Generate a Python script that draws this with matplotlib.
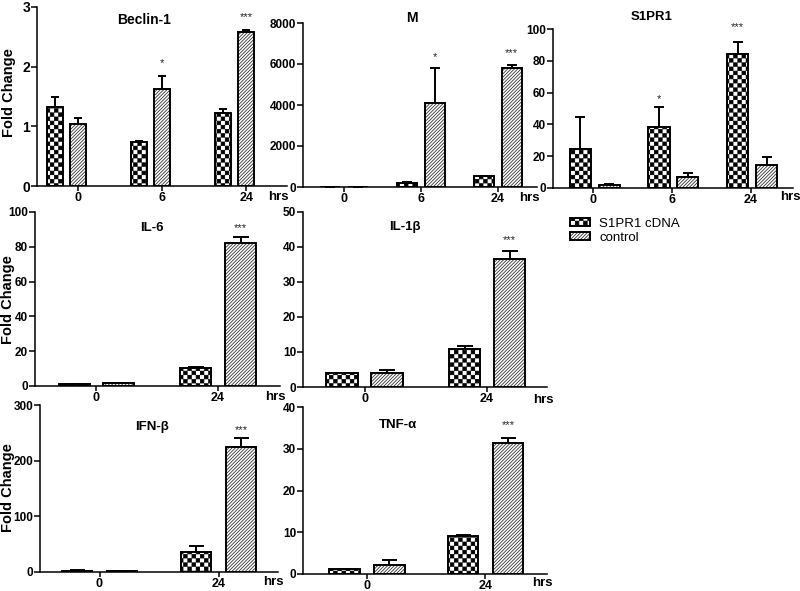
import numpy as np
import matplotlib
matplotlib.use("Agg")
import matplotlib.pyplot as plt
import matplotlib.hatch as mhatch
from matplotlib.path import Path

# ---------------- data ----------------
beclin_groups = ["0", "6", "24"]
beclin_cdna = [1.32, 0.74, 1.22]
beclin_cdna_err = [0.17, 0.02, 0.07]
beclin_ctrl = [1.04, 1.62, 2.58]
beclin_ctrl_err = [0.10, 0.22, 0.03]

m_groups = ["0", "6", "24"]
m_cdna = [1.0, 180, 520]
m_cdna_err = [0.0, 60, 30]
m_ctrl = [1.0, 4120, 5820]
m_ctrl_err = [0.0, 1670, 120]

s1pr1_groups = ["0", "6", "24"]
s1pr1_cdna = [24.5, 38.5, 84.5]
s1pr1_cdna_err = [20.3, 12.2, 7.5]
s1pr1_ctrl = [1.9, 7.1, 14.5]
s1pr1_ctrl_err = [0.6, 2.3, 5.2]

il6_groups = ["0", "24"]
il6_cdna = [0.9, 10.5]
il6_cdna_err = [0.3, 0.6]
il6_ctrl = [1.5, 82.1]
il6_ctrl_err = [0.4, 3.6]

il1b_groups = ["0", "24"]
il1b_cdna = [3.9, 11.0]
il1b_cdna_err = [0.2, 0.7]
il1b_ctrl = [4.1, 36.6]
il1b_ctrl_err = [0.8, 2.3]

ifnb_groups = ["0", "24"]
ifnb_cdna = [2.5, 36.5]
ifnb_cdna_err = [1.5, 10.3]
ifnb_ctrl = [1.0, 225.4]
ifnb_ctrl_err = [0.3, 15.1]

tnfa_groups = ["0", "24"]
tnfa_cdna = [1.1, 9.1]
tnfa_cdna_err = [0.2, 0.3]
tnfa_ctrl = [2.15, 31.4]
tnfa_ctrl_err = [1.2, 1.2]

series_labels = ["S1PR1 cDNA", "control"]

# significance marks: (group index, series 0=cdna/1=ctrl, text, y position in data units)
beclin_stars = [(1, 1, "*", 2.06), (2, 1, "***", 2.83)]
m_stars = [(1, 1, "*", 6340), (2, 1, "***", 6540)]
s1pr1_stars = [(1, 0, "*", 56), (2, 0, "***", 101)]
il6_stars = [(1, 1, "***", 90.5)]
il1b_stars = [(1, 1, "***", 42)]
ifnb_stars = [(1, 1, "***", 255)]
tnfa_stars = [(1, 1, "***", 35.6)]

# ---------------- custom checkerboard hatch ----------------
class CheckerHatch(mhatch.HatchPatternBase):
    def __init__(self, hatch, density):
        self.n = 24 if "*" in hatch else 0
        self.num_vertices = (self.n * self.n // 2) * 5 if self.n else 0

    def set_vertices_and_codes(self, vertices, codes):
        n = self.n
        c = 1.0 / n
        s = 0.0035
        verts = []
        for i in range(n):
            for j in range(n):
                if (i + j) % 2 == 0:
                    x0, y0 = i * c + s, j * c + s
                    x1, y1 = (i + 1) * c - s, (j + 1) * c - s
                    verts.extend([(x0, y0), (x1, y0), (x1, y1), (x0, y1), (x0, y0)])
        vertices[:] = np.array(verts)
        codes[:] = np.tile([Path.MOVETO, Path.LINETO, Path.LINETO, Path.LINETO,
                            Path.CLOSEPOLY], n * n // 2)

mhatch._hatch_types = [t for t in mhatch._hatch_types if t is not mhatch.Stars] + [CheckerHatch]

plt.rcParams["font.family"] = ["Liberation Sans", "DejaVu Sans"]
plt.rcParams["hatch.linewidth"] = 0.6

W, H = 800, 591
fig = plt.figure(figsize=(W / 100, H / 100), dpi=100)

def px_axes(L, R, T, B):
    return fig.add_axes([L / W, 1 - B / H, (R - L) / W, (B - T) / H])

CHECK = "*"
DIAG = "//////////"

def panel(box, xlim, ylim, yticks, groups, cdna, cdna_err, ctrl, ctrl_err,
          width, off, capsize, stars, title, title_pos, title_fs,
          hrs_pos, ytick_fs=8.5, xtick_fs=9, tick_off=0.0, star_fs=8):
    ax = px_axes(*box)
    x = np.arange(len(groups))
    b1 = ax.bar(x - off, cdna, width, facecolor="white", edgecolor="black",
                hatch=CHECK, linewidth=1.4, zorder=2)
    b2 = ax.bar(x + off, ctrl, width, facecolor="white", edgecolor="#333333",
                hatch=DIAG, linewidth=0, zorder=2)
    b3 = ax.bar(x + off, ctrl, width, fill=False, edgecolor="black",
                linewidth=1.4, zorder=3)
    z = np.zeros(len(groups))
    ax.errorbar(x - off, cdna, yerr=[z, cdna_err], fmt="none", ecolor="black",
                elinewidth=1.4, capsize=capsize, capthick=1.4, zorder=1)
    ax.errorbar(x + off, ctrl, yerr=[z, ctrl_err], fmt="none", ecolor="black",
                elinewidth=1.4, capsize=capsize, capthick=1.4, zorder=1)
    for gi, si, txt, yy in stars:
        xx = gi - off if si == 0 else gi + off
        ax.text(xx, yy, txt, ha="center", va="center", fontsize=star_fs,
                color="#222222")
    ax.set_xlim(*xlim)
    ax.set_ylim(*ylim)
    ax.set_yticks(yticks)
    ax.set_yticklabels([str(v) for v in yticks], fontsize=ytick_fs, fontweight="bold")
    ax.set_xticks(x + tick_off)
    ax.set_xticklabels(groups, fontsize=xtick_fs, fontweight="bold")
    for s in ["top", "right"]:
        ax.spines[s].set_visible(False)
    for s in ["left", "bottom"]:
        ax.spines[s].set_linewidth(1.1)
    ax.tick_params(axis="y", direction="out", length=4, width=1.1, pad=1)
    ax.tick_params(axis="x", direction="out", length=3.5, width=1.1, pad=1)
    ax.patch.set_visible(False)
    fig.text(title_pos[0] / W, 1 - title_pos[1] / H, title, ha="center",
             va="center", fontsize=title_fs, fontweight="bold")
    fig.text(hrs_pos[0] / W, 1 - hrs_pos[1] / H, "hrs", ha="center",
             va="center", fontsize=9.5, fontweight="bold")
    return ax, b1, b2, b3

ax1, b1, b2, b3 = panel((37, 287, 7, 186), (-0.35, 2.62), (0, 3), [0, 1, 2, 3],
      beclin_groups, beclin_cdna, beclin_cdna_err, beclin_ctrl, beclin_ctrl_err,
      0.19, 0.137, 2.9, beclin_stars, "Beclin-1", (144, 20), 10, (278, 197),
      ytick_fs=10, tick_off=0.137)
panel((303, 537, 23, 187), (-0.53, 2.51), (0, 8000), [0, 2000, 4000, 6000, 8000],
      m_groups, m_cdna, m_cdna_err, m_ctrl, m_ctrl_err,
      0.26, 0.18, 3.6, m_stars, "M", (412, 18), 10, (529, 198))
panel((553, 793, 29, 188), (-0.53, 2.52), (0, 100), [0, 20, 40, 60, 80, 100],
      s1pr1_groups, s1pr1_cdna, s1pr1_cdna_err, s1pr1_ctrl, s1pr1_ctrl_err,
      0.27, 0.184, 3.8, s1pr1_stars, "S1PR1", (652, 17), 9.5, (790, 197),
      tick_off=-0.02)
panel((35, 280, 212, 386), (-0.506, 1.51), (0, 100), [0, 20, 40, 60, 80, 100],
      il6_groups, il6_cdna, il6_cdna_err, il6_ctrl, il6_ctrl_err,
      0.255, 0.185, 5.6, il6_stars, "IL-6", (152, 228), 9.5, (275, 397))
panel((303, 547, 212, 387), (-0.504, 1.49), (0, 50), [0, 10, 20, 30, 40, 50],
      il1b_groups, il1b_cdna, il1b_cdna_err, il1b_ctrl, il1b_ctrl_err,
      0.26, 0.184, 5.6, il1b_stars, "IL-1β", (405, 227), 9.5, (543, 400))
panel((40, 278, 405, 572), (-0.5, 1.5), (0, 300), [0, 100, 200, 300],
      ifnb_groups, ifnb_cdna, ifnb_cdna_err, ifnb_ctrl, ifnb_ctrl_err,
      0.25, 0.19, 5.4, ifnb_stars, "IFN-β", (152, 427), 9.5, (273, 582))
panel((303, 547, 407, 574), (-0.54, 1.52), (0, 40), [0, 10, 20, 30, 40],
      tnfa_groups, tnfa_cdna, tnfa_cdna_err, tnfa_ctrl, tnfa_ctrl_err,
      0.255, 0.19, 5.4, tnfa_stars, "TNF-α", (398, 425), 9.5, (542, 583))

for (xp, yp) in [(9, 93), (8, 300), (8, 488)]:
    fig.text(xp / W, 1 - yp / H, "Fold Change", rotation=90, ha="center",
             va="center", fontsize=10.5, fontweight="bold")

fig.legend([b1.patches[0], (b2.patches[0], b3.patches[0])], series_labels,
           loc="upper left", bbox_to_anchor=(570 / W, 1 - 218 / H),
           frameon=False, borderpad=0, borderaxespad=0, handlelength=1.5,
           handleheight=0.55, handletextpad=0.7, labelspacing=0.15,
           fontsize=9.5)

fig.savefig("out.png", dpi=100)
